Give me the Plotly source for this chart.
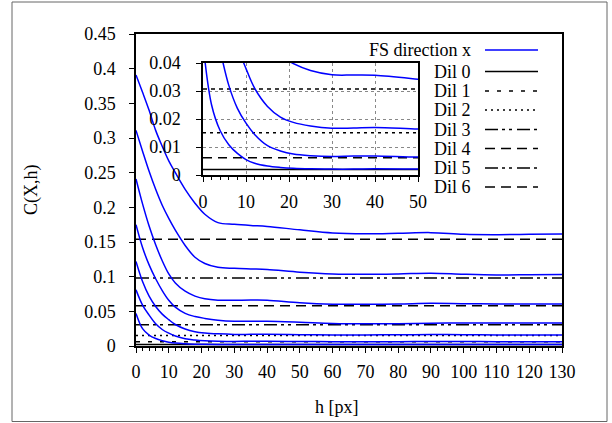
import plotly.graph_objects as go

# ---------------- data ----------------
h = [0, 2, 4, 6, 8, 10, 12, 15, 18, 21, 25, 30, 35, 40, 50, 60, 70, 80, 90, 100, 110, 120, 130]

fs_dil0 = [0.047, 0.025, 0.0158, 0.0108, 0.0077, 0.0055, 0.0042, 0.0032, 0.0027, 0.0024, 0.0022, 0.0021,
           0.0021, 0.0022, 0.0021, 0.0021, 0.0021, 0.0021, 0.0022, 0.0021, 0.0021, 0.0021, 0.0021]
fs_dil1 = [0.081, 0.059, 0.0445, 0.032, 0.0238, 0.0185, 0.0145, 0.0105, 0.0086, 0.0075, 0.0069, 0.0066,
           0.0068, 0.0068, 0.0064, 0.0063, 0.0063, 0.0063, 0.0065, 0.0064, 0.0063, 0.0063, 0.0063]
fs_dil2 = [0.122, 0.093, 0.072, 0.057, 0.046, 0.038, 0.031, 0.0245, 0.0207, 0.0188, 0.0175, 0.0167,
           0.0168, 0.017, 0.0164, 0.016, 0.016, 0.0162, 0.0165, 0.0163, 0.016, 0.016, 0.016]
fs_dil3 = [0.175, 0.142, 0.117, 0.097, 0.080, 0.066, 0.056, 0.047, 0.0425, 0.0398, 0.0373, 0.0358,
           0.0357, 0.0356, 0.0342, 0.0325, 0.032, 0.0322, 0.0328, 0.0332, 0.0333, 0.0333, 0.0333]
fs_dil4 = [0.241, 0.205, 0.173, 0.146, 0.123, 0.104, 0.091, 0.079, 0.072, 0.068, 0.066, 0.066,
           0.0662, 0.066, 0.0622, 0.0602, 0.0602, 0.0605, 0.0615, 0.061, 0.0607, 0.0607, 0.0607]
fs_dil5 = [0.311, 0.281, 0.252, 0.226, 0.203, 0.184, 0.167, 0.145, 0.128, 0.119, 0.1135, 0.112,
           0.1112, 0.1105, 0.1065, 0.104, 0.1035, 0.104, 0.105, 0.1035, 0.1025, 0.1027, 0.103]
fs_dil6 = [0.391, 0.366, 0.340, 0.311, 0.288, 0.267, 0.250, 0.226, 0.206, 0.19, 0.178, 0.1755,
           0.1738, 0.1725, 0.1675, 0.163, 0.1618, 0.1625, 0.1635, 0.161, 0.1605, 0.1612, 0.1615]
fs_curves = [fs_dil0, fs_dil1, fs_dil2, fs_dil3, fs_dil4, fs_dil5, fs_dil6]

dil_names = ["Dil 0", "Dil 1", "Dil 2", "Dil 3", "Dil 4", "Dil 5", "Dil 6"]
dil_values = [0.002, 0.0062, 0.0151, 0.0307, 0.058, 0.098, 0.154]
h_range = [0, 130]

main_yticks = [0, 0.05, 0.1, 0.15, 0.2, 0.25, 0.3, 0.35, 0.4, 0.45]
main_yticklabels = ["0", "0.05", "0.1", "0.15", "0.2", "0.25", "0.3", "0.35", "0.4", "0.45"]
main_xticks = list(range(0, 131, 10))
inset_yticks = [0, 0.01, 0.02, 0.03, 0.04]
inset_yticklabels = ["0", "0.01", "0.02", "0.03", "0.04"]
inset_xticks = [0, 10, 20, 30, 40, 50]

# ---------------- styles ----------------
FONT = "Liberation Serif, Times New Roman, serif"
FS = 18
BLUE = "#0000ff"
dil_dash = ["solid", "4px,8px", "2px,4px", "13px,4px,3px,4px,3px,5px", "10px,6px",
            "13px,4px,3px,4px,3px,5px", "10px,6px"]
inset_dil_dash = ["solid", "9px,6px", "3px,4px", "4px,4px", "10px,6px",
                  "13px,4px,3px,4px,3px,5px", "10px,6px"]

W, H = 612, 423
L, R, T, B = 136, 50, 34, 77
PW, PH = W - L - R, H - T - B


def px_x(x):
    return (x - L) / PW


def px_y(y):
    return (H - B - y) / PH


fig = go.Figure()

for xa, ya, dashes in (("x", "y", dil_dash), ("x2", "y2", inset_dil_dash)):
    for name, v, d in zip(dil_names, dil_values, dashes):
        fig.add_trace(go.Scatter(x=h_range, y=[v, v], mode="lines", xaxis=xa, yaxis=ya,
                                 line=dict(color="black", width=1.5, dash=d),
                                 showlegend=False, hoverinfo="skip"))
    for c in fs_curves:
        fig.add_trace(go.Scatter(x=h, y=c, mode="lines", xaxis=xa, yaxis=ya,
                                 line=dict(color=BLUE, width=1.5, shape="spline", smoothing=1.0),
                                 showlegend=False, hoverinfo="skip"))

tickfont = dict(family=FONT, size=FS, color="black")

fig.update_layout(
    width=W, height=H,
    margin=dict(l=L, r=R, t=T, b=B),
    paper_bgcolor="white", plot_bgcolor="white",
    showlegend=False,
    xaxis=dict(domain=[0, 1], range=[0, 130], tickvals=main_xticks, ticks="outside", ticklen=5,
               tickwidth=1, tickcolor="black", showline=True, linecolor="black", linewidth=1.5,
               mirror=True, showgrid=False, zeroline=False, tickfont=tickfont,
               ticklabelstandoff=4,
               minor=dict(ticks="outside", dtick=2, ticklen=3, tickcolor="black", showgrid=False)),
    yaxis=dict(domain=[0, 1], range=[0, 0.45], tickvals=main_yticks, ticktext=main_yticklabels,
               ticks="outside", ticklen=5, tickwidth=1, tickcolor="black", showline=True,
               linecolor="black", linewidth=1.5, mirror=True, showgrid=False, zeroline=False,
               tickfont=tickfont, ticklabelstandoff=10),
    xaxis2=dict(domain=[px_x(203), px_x(418)], anchor="y2", range=[0, 50], tickvals=inset_xticks,
                ticks="outside", ticklen=5, tickwidth=1, tickcolor="black", showline=True,
                linecolor="black", linewidth=1.5, mirror=True, showgrid=True, gridcolor="#888888",
                griddash="dot", gridwidth=1, zeroline=False, tickfont=tickfont, ticklabelstandoff=5,
                minor=dict(ticks="outside", dtick=2, ticklen=3, tickcolor="black", showgrid=False)),
    yaxis2=dict(domain=[px_y(175), px_y(63)], anchor="x2", range=[0, 0.04], tickvals=inset_yticks,
                ticktext=inset_yticklabels, ticks="outside", ticklen=5, tickwidth=1, tickcolor="black",
                showline=True, linecolor="black", linewidth=1.5, mirror=True, showgrid=True,
                gridcolor="#888888", griddash="dot", gridwidth=1, zeroline=False, tickfont=tickfont,
                ticklabelstandoff=12),
)

annotations = [
    dict(text="h [px]", x=px_x(337), y=px_y(407), xref="paper", yref="paper", showarrow=False,
         xanchor="center", yanchor="middle", font=dict(family=FONT, size=FS, color="black")),
    dict(text="C(X,h)", x=px_x(31), y=px_y(190), xref="paper", yref="paper", showarrow=False,
         textangle=-90, xanchor="center", yanchor="middle",
         font=dict(family=FONT, size=FS, color="black")),
]
shapes = [
    dict(type="rect", xref="paper", yref="paper", x0=px_x(12), x1=px_x(607), y0=px_y(421.5), y1=px_y(2),
         line=dict(color="#666666", width=1), fillcolor="rgba(0,0,0,0)", layer="below"),
]

# manual legend (text right-aligned, sample on the right)
legend_labels = ["FS direction x"] + dil_names
legend_colors = [BLUE] + ["black"] * 7
legend_dashes = ["solid"] + dil_dash
row_y = [50, 71.5, 91, 110, 129.5, 148.5, 168, 187]
for lab, col, d, ry in zip(legend_labels, legend_colors, legend_dashes, row_y):
    annotations.append(dict(text=lab, x=px_x(473), y=px_y(ry), xref="paper", yref="paper",
                            showarrow=False, xanchor="right", yanchor="middle",
                            font=dict(family=FONT, size=FS, color="black")))
    shapes.append(dict(type="line", xref="paper", yref="paper", x0=px_x(485), x1=px_x(538),
                       y0=px_y(ry), y1=px_y(ry), line=dict(color=col, width=1.5, dash=d)))

fig.update_layout(annotations=annotations, shapes=shapes)

fig.write_html("out.html", config={"displayModeBar": False},
               post_script="document.body.style.margin='0';document.body.style.overflow='hidden';")
